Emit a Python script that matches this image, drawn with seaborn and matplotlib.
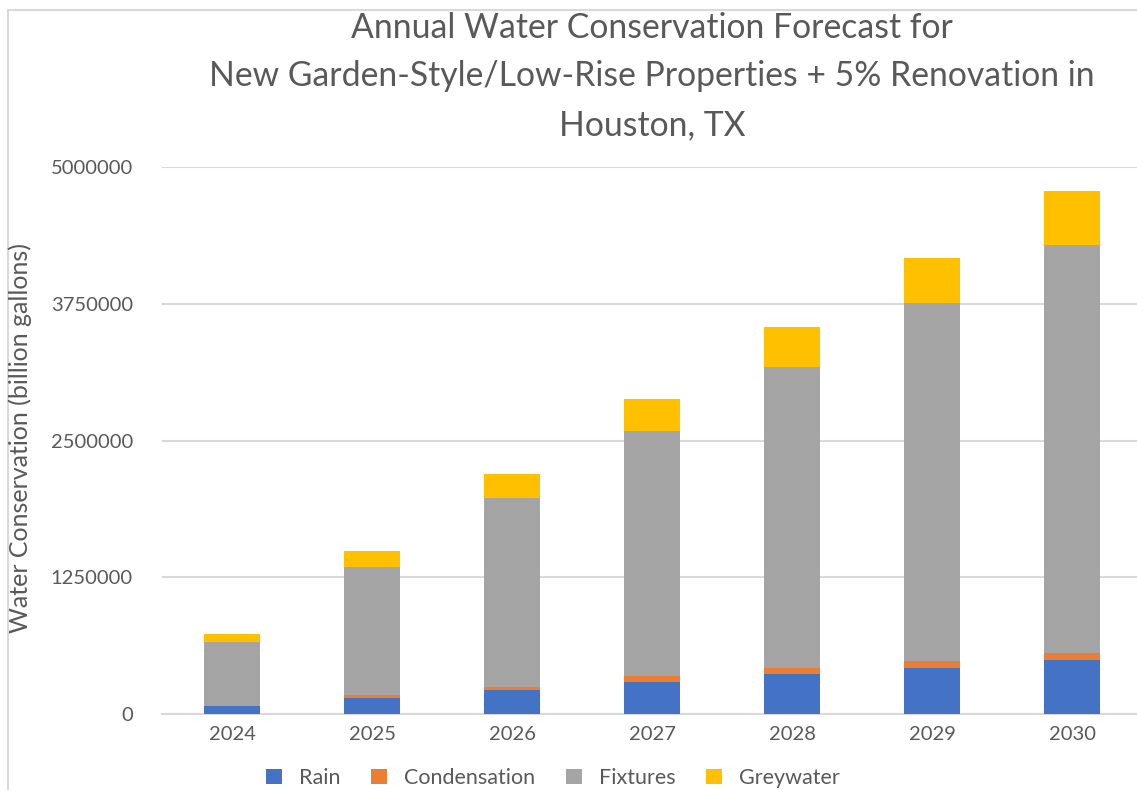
import matplotlib
matplotlib.use("Agg")
import matplotlib.pyplot as plt
from matplotlib.patches import Patch, Rectangle
import numpy as np
import pandas as pd
import seaborn as sns

# Forecast data (gallons saved per year, by source)
years = ["2024", "2025", "2026", "2027", "2028", "2029", "2030"]
rain = [73000, 146000, 219000, 293000, 366000, 422000, 494000]
condensation = [2000, 27000, 28000, 54000, 54000, 63000, 64000]
fixtures = [583000, 1170000, 1727000, 2240000, 2752000, 3273000, 3729000]
greywater = [73000, 146000, 220000, 292000, 365000, 411000, 494000]

series_names = ["Rain", "Condensation", "Fixtures", "Greywater"]
series_values = [rain, condensation, fixtures, greywater]
series_colors = ["#4472C4", "#ED7D31", "#A5A5A5", "#FFC000"]

title_lines = [
    "Annual Water Conservation Forecast for",
    "New Garden-Style/Low-Rise Properties + 5% Renovation in",
    "Houston, TX",
]
y_ticks = [0, 1250000, 2500000, 3750000, 5000000]
y_label = "Water Conservation (billion gallons)"

TEXT = "#595959"
GRID = "#D9D9D9"
FONT = ["Lato", "DejaVu Sans"]

sns.set_theme(style="white")
plt.rcParams["font.family"] = FONT

W, H = 1137, 790
fig = plt.figure(figsize=(W / 100, H / 100), dpi=100)

# chart frame
fig.add_artist(Rectangle((8 / W, -0.1), 1.2, (H - 10) / H + 0.1,
                         transform=fig.transFigure, fill=False,
                         edgecolor=GRID, linewidth=1.5))

left, right, top, bottom = 162, 1142, 167, 714
ax = fig.add_axes([left / W, (H - bottom) / H, (right - left) / W, (bottom - top) / H])

df = pd.DataFrame({"year": years})
cum = np.zeros(len(years))
cums = []
for vals in series_values:
    cum = cum + np.array(vals, dtype=float)
    cums.append(cum.copy())

# stacked bars: draw cumulative totals, tallest first
for name, total, color in reversed(list(zip(series_names, cums, series_colors))):
    d = df.copy()
    d["value"] = total
    sns.barplot(data=d, x="year", y="value", color=color, width=0.4,
                saturation=1, ax=ax, zorder=3, linewidth=0)

ax.set_ylim(0, 5000000)
ax.set_xlim(-0.5, len(years) - 0.5)
ax.set_yticks(y_ticks)
ax.set_yticklabels([str(v) for v in y_ticks])
ax.yaxis.grid(True, color=GRID, linewidth=1.5, zorder=0)
ax.xaxis.grid(False)
for s in ["top", "right", "left"]:
    ax.spines[s].set_visible(False)
ax.spines["bottom"].set_color(GRID)
ax.spines["bottom"].set_linewidth(1.5)
ax.tick_params(axis="both", length=0, labelsize=14.5, labelcolor=TEXT)
ax.tick_params(axis="y", pad=21)
ax.tick_params(axis="x", pad=9)
ax.set_xlabel("")
ax.set_ylabel("")

fig.text(20 / W, 1 - 438 / H, y_label, rotation=90, ha="center", va="center",
         fontsize=18, color=TEXT)

for i, line in enumerate(title_lines):
    fig.text(652 / W, 1 - (28 + 48.5 * i) / H, line, ha="center", va="center",
             fontsize=24.3, color=TEXT)

handles = [Patch(facecolor=c, edgecolor="none") for c in series_colors]
fig.legend(handles, series_names, loc="center", bbox_to_anchor=(553 / W, 1 - 778 / H),
           ncol=4, frameon=False, fontsize=15.5, labelcolor=TEXT,
           handlelength=0.75, handleheight=0.75, handletextpad=0.8, columnspacing=1.4)

fig.savefig("out.png", dpi=100)
